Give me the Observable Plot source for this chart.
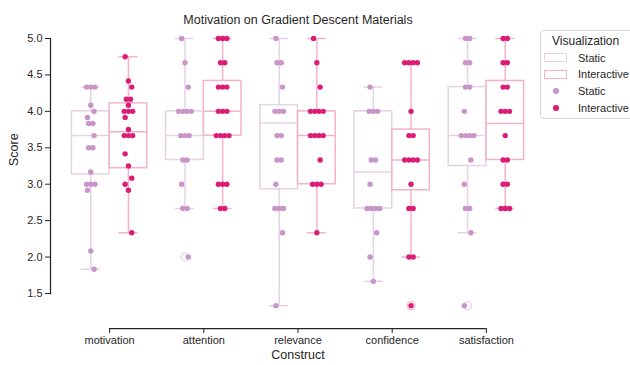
<!DOCTYPE html>
<html><head><meta charset="utf-8">
<script src="https://cdn.jsdelivr.net/npm/d3@7"></script>
<script src="https://cdn.jsdelivr.net/npm/@observablehq/plot@0.6"></script>
<style>
body{margin:0;background:#fff;font-family:"Liberation Sans",Arial,sans-serif;}
#wrap{position:relative;width:630px;height:365px;overflow:hidden;}
#legend{position:absolute;left:540px;top:30px;width:110px;height:87px;border:1px solid #d6d6d6;border-radius:4px;background:#fff;font-size:11px;color:#262626;}
#legend .t{position:absolute;left:11px;top:3px;line-height:14px;white-space:nowrap;font-size:12px;}
#legend .lab{position:absolute;left:37px;line-height:14px;white-space:nowrap;}
#legend .patch{position:absolute;left:3px;width:21px;height:7px;background:#fff;}
#legend .dot{position:absolute;width:5.4px;height:5.4px;border-radius:50%;left:12.3px;}
</style></head>
<body><div id="wrap"></div>
<script>
const constructs = ["motivation","attention","relevance","confidence","satisfaction"];
const visualizations = ["Static","Interactive"];
const yTicks = [1.5,2.0,2.5,3.0,3.5,4.0,4.5,5.0];

// individual scores (strip points)
const staticMotivation = [4.333,4.333,4.333,4.083,4.0,3.917,3.833,3.833,3.667,3.5,3.5,3.167,3.0,3.0,3.0,2.917,2.083,1.833];
const staticAttention = [5.0,4.667,4.333,4.0,4.0,4.0,4.0,3.667,3.667,3.667,3.333,3.333,3.0,2.667,2.667,2.0];
const staticRelevance = [5.0,4.667,4.667,4.333,4.0,4.0,4.0,3.667,3.667,3.333,3.333,3.0,2.667,2.667,2.667,2.333,1.333];
const staticConfidence = [4.333,4.0,4.0,4.0,3.333,3.333,3.0,2.667,2.667,2.667,2.667,2.333,2.0,1.667];
const staticSatisfaction = [5.0,5.0,4.667,4.667,4.333,4.333,4.0,3.667,3.667,3.667,3.667,3.333,3.0,2.667,2.667,2.333,1.333];

const interactiveMotivation = [4.75,4.417,4.333,4.167,4.167,4.083,4.0,4.0,4.0,3.917,3.75,3.667,3.667,3.667,3.417,3.25,3.083,3.0,2.917,2.333];
const interactiveAttention = [5.0,5.0,5.0,4.667,4.667,4.333,4.333,4.333,4.0,4.0,4.0,3.667,3.667,3.667,3.667,3.0,3.0,3.0,2.667,2.667];
const interactiveRelevance = [5.0,4.667,4.333,4.0,4.0,4.0,4.0,3.667,3.667,3.667,3.667,3.333,3.0,3.0,3.0,2.333];
const interactiveConfidence = [4.667,4.667,4.667,4.667,4.0,3.667,3.667,3.333,3.333,3.333,3.333,3.0,2.667,2.667,2.0,2.0,1.333];
const interactiveSatisfaction = [5.0,5.0,4.667,4.667,4.333,4.333,4.0,4.0,4.0,3.667,3.333,3.333,3.0,3.0,2.667,2.667,2.667];

// box statistics (per construct)
const staticQ1 = [3.133,3.333,2.93,2.667,3.25];
const staticMedian = [3.667,3.667,3.84,3.167,3.667];
const staticQ3 = [4.0,4.0,4.085,4.0,4.333];
const staticLow = [1.833,2.667,1.333,1.667,2.333];
const staticHigh = [4.333,5.0,5.0,4.333,5.0];
const staticOutliers = [[],[2.0],[],[],[1.333]];

const interactiveQ1 = [3.22,3.667,3.0,2.917,3.333];
const interactiveMedian = [3.72,4.0,3.667,3.333,3.833];
const interactiveQ3 = [4.11,4.417,4.0,3.75,4.417];
const interactiveLow = [2.333,2.667,2.333,2.0,2.667];
const interactiveHigh = [4.75,5.0,5.0,4.667,5.0];
const interactiveOutliers = [[],[],[],[1.333],[]];

const pointColor = {Static:"#c994c7", Interactive:"#dd1c77"};
const boxColor = {Static:"#e6d2e6", Interactive:"#f4b2c9"};

const scoreSets = {
  Static:[staticMotivation,staticAttention,staticRelevance,staticConfidence,staticSatisfaction],
  Interactive:[interactiveMotivation,interactiveAttention,interactiveRelevance,interactiveConfidence,interactiveSatisfaction]
};
const statSets = {
  Static:{q1:staticQ1,med:staticMedian,q3:staticQ3,lo:staticLow,hi:staticHigh,out:staticOutliers},
  Interactive:{q1:interactiveQ1,med:interactiveMedian,q3:interactiveQ3,lo:interactiveLow,hi:interactiveHigh,out:interactiveOutliers}
};
const offset = {Static:-0.2, Interactive:0.2};

const boxes = [], points = [], outliers = [];
for (const vis of visualizations) {
  constructs.forEach((c, ci) => {
    const s = statSets[vis];
    const xc = ci + offset[vis];
    boxes.push({vis, xc, q1:s.q1[ci], med:s.med[ci], q3:s.q3[ci], lo:s.lo[ci], hi:s.hi[ci]});
    for (const o of s.out[ci]) outliers.push({vis, xc, y:o});
    // deterministic spreading of tied values
    const groups = d3.group(scoreSets[vis][ci], v => v);
    let j = 0;
    for (const [v, arr] of groups) {
      const m = arr.length;
      arr.forEach((_, k) => {
        let off = m === 1 ? ((j % 3) - 1) * 0.035 : (k - (m - 1) / 2) * 0.045;
        points.push({vis, x: xc + off, y: v});
      });
      j++;
    }
  });
}

const ink = "#262626";
const chart = Plot.plot({
  width:630, height:365,
  marginLeft:50, marginRight:97, marginTop:38, marginBottom:72,
  x:{type:"linear", domain:[-0.5,4.5], range:[62,533], axis:null},
  y:{domain:[1.5,5], axis:null},
  style:{fontFamily:'"Liberation Sans", Arial, sans-serif', fontSize:"11px", color:ink, background:"white", overflow:"visible"},
  marks:[
    Plot.frame({anchor:"left", stroke:ink, strokeWidth:1.25}),
    Plot.axisY(yTicks, {tickFormat:d3.format(".1f"), tickSize:5, tickPadding:3, label:null, stroke:ink, fill:ink, fontSize:11}),
    Plot.ruleY([1.5], {x1:0, x2:4, dy:35, stroke:ink, strokeWidth:1.25}),
    Plot.axisX([0,1,2,3,4], {tickFormat:i => constructs[i], tickSize:5, tickPadding:3, label:null, dy:35, stroke:ink, fill:ink, fontSize:11}),
    // whiskers
    Plot.ruleX(boxes, {x:"xc", y1:"q1", y2:"lo", stroke:d => boxColor[d.vis], strokeWidth:1.5}),
    Plot.ruleX(boxes, {x:"xc", y1:"q3", y2:"hi", stroke:d => boxColor[d.vis], strokeWidth:1.5}),
    Plot.ruleY(boxes, {y:"lo", x1:d => d.xc - 0.1, x2:d => d.xc + 0.1, stroke:d => boxColor[d.vis], strokeWidth:1.5}),
    Plot.ruleY(boxes, {y:"hi", x1:d => d.xc - 0.1, x2:d => d.xc + 0.1, stroke:d => boxColor[d.vis], strokeWidth:1.5}),
    // boxes
    Plot.rect(boxes, {x1:d => d.xc - 0.2, x2:d => d.xc + 0.2, y1:"q1", y2:"q3", fill:"none", stroke:d => boxColor[d.vis], strokeWidth:1.5}),
    Plot.ruleY(boxes, {y:"med", x1:d => d.xc - 0.2, x2:d => d.xc + 0.2, stroke:d => boxColor[d.vis], strokeWidth:1.5}),
    // fliers
    Plot.dot(outliers, {x:"xc", y:"y", r:4, fill:"none", stroke:d => boxColor[d.vis], strokeWidth:1.2}),
    // strip points
    Plot.dot(points, {x:"x", y:"y", r:2.7, fill:d => pointColor[d.vis], stroke:"none"}),
    // texts
    Plot.text(["Motivation on Gradient Descent Materials"], {frameAnchor:"top", dx:6, dy:-23, fontSize:12.5, fill:ink}),
    Plot.text(["Construct"], {frameAnchor:"bottom", dx:6, dy:65, fontSize:12.5, fill:ink}),
    Plot.text(["Score"], {frameAnchor:"left", dx:-37, rotate:-90, fontSize:12.5, fill:ink})
  ]
});
const wrap = document.getElementById("wrap");
wrap.appendChild(chart);

const legend = document.createElement("div");
legend.id = "legend";
legend.innerHTML = `
  <div class="t">Visualization</div>
  <div class="patch" style="top:22px;border:1px solid ${boxColor.Static}"></div>
  <div class="lab" style="top:19.5px">${visualizations[0]}</div>
  <div class="patch" style="top:38.5px;border:1px solid ${boxColor.Interactive}"></div>
  <div class="lab" style="top:36px">${visualizations[1]}</div>
  <div class="dot" style="top:57.3px;background:${pointColor.Static}"></div>
  <div class="lab" style="top:53px">${visualizations[0]}</div>
  <div class="dot" style="top:74.3px;background:${pointColor.Interactive}"></div>
  <div class="lab" style="top:70.3px">${visualizations[1]}</div>`;
wrap.appendChild(legend);
</script></body></html>
